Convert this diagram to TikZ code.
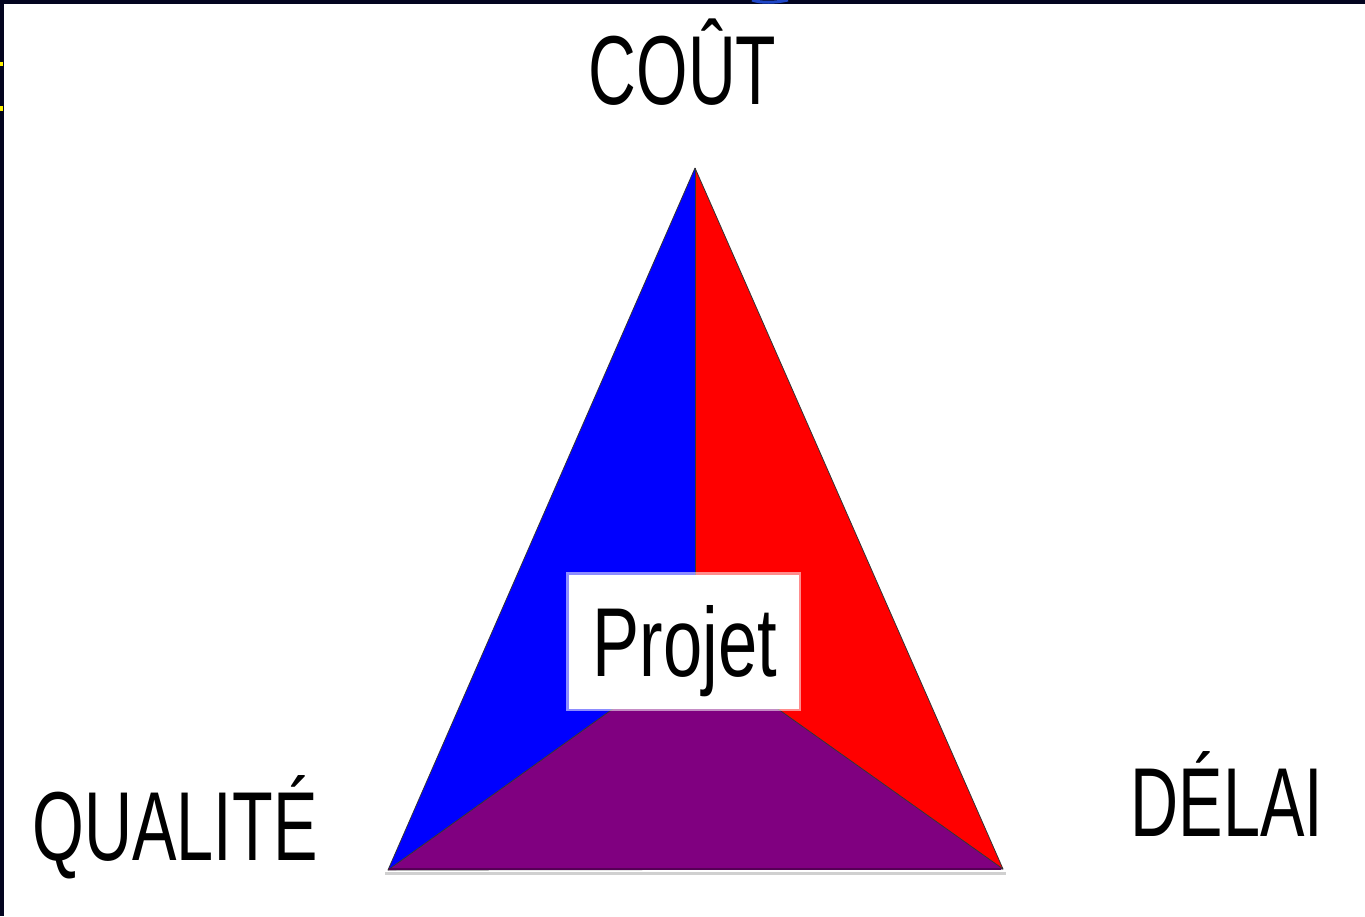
\documentclass[tikz,border=0pt]{standalone}
\usepackage{fontspec}
\setmainfont{Liberation Sans}
\usepackage{graphicx}
\begin{document}
\begin{tikzpicture}[x=1pt,y=-1pt,
  lbl/.style={font=\fontsize{98}{110}\selectfont, inner sep=0pt, anchor=base},
  edge/.style={draw=black!80, line width=0.8pt, line join=round}]
\useasboundingbox (0,0) rectangle (1365,916);
\fill[white] (0,0) rectangle (1365,916);
% frame
\fill[fill={rgb,255:red,3;green,5;blue,32}] (0,0) rectangle (1365,3.5);
\fill[fill={rgb,255:red,3;green,5;blue,32}] (0,0) rectangle (3.5,916);
\draw[line width=3pt, draw={rgb,255:red,30;green,70;blue,200}] (752,0) .. controls (760,3) and (775,3) .. (788,0);
\fill[yellow] (0,62) rectangle (3,66);
\fill[yellow] (0,106) rectangle (3,111);
% corners
\coordinate (top) at (695,168);
\coordinate (bl) at (388,870);
\coordinate (br) at (1003,869);
\coordinate (ctr) at (695,650);
% shadow
\draw[line width=3pt, draw={rgb,255:red,208;green,208;blue,208}] (385,873) -- (1006,873);
% regions
\fill[blue] (top) -- (bl) -- (ctr) -- cycle;
\fill[red] (top) -- (br) -- (ctr) -- cycle;
\fill[fill={rgb,255:red,128;green,0;blue,128}] (bl) -- (br) -- (ctr) -- cycle;
\draw[edge] (top) -- (bl) -- (br) -- cycle;
\draw[edge] (top) -- (ctr);
\draw[edge] (bl) -- (ctr) -- (br);
\draw[line width=2pt, draw={rgb,255:red,85;green,0;blue,85}] (389,869) -- (1001,869);
% box
\node[fill=white, draw=white, draw opacity=0.55, line width=5pt, minimum width=230pt, minimum height=134pt, inner sep=0pt] (box) at (683.5,641.5) {};
\node[lbl] (projet) at (685,676) {\scalebox{0.72}[1]{Projet}};
% labels
\node[lbl] (cout) at (682.5,104) {\scalebox{0.675}[1]{COÛT}};
\node[lbl] (qualite) at (175,860) {\scalebox{0.68}[1]{QUALITÉ}};
\node[lbl] (delai) at (1227,836) {\scalebox{0.68}[1]{DÉLAI}};
\end{tikzpicture}
\end{document}
